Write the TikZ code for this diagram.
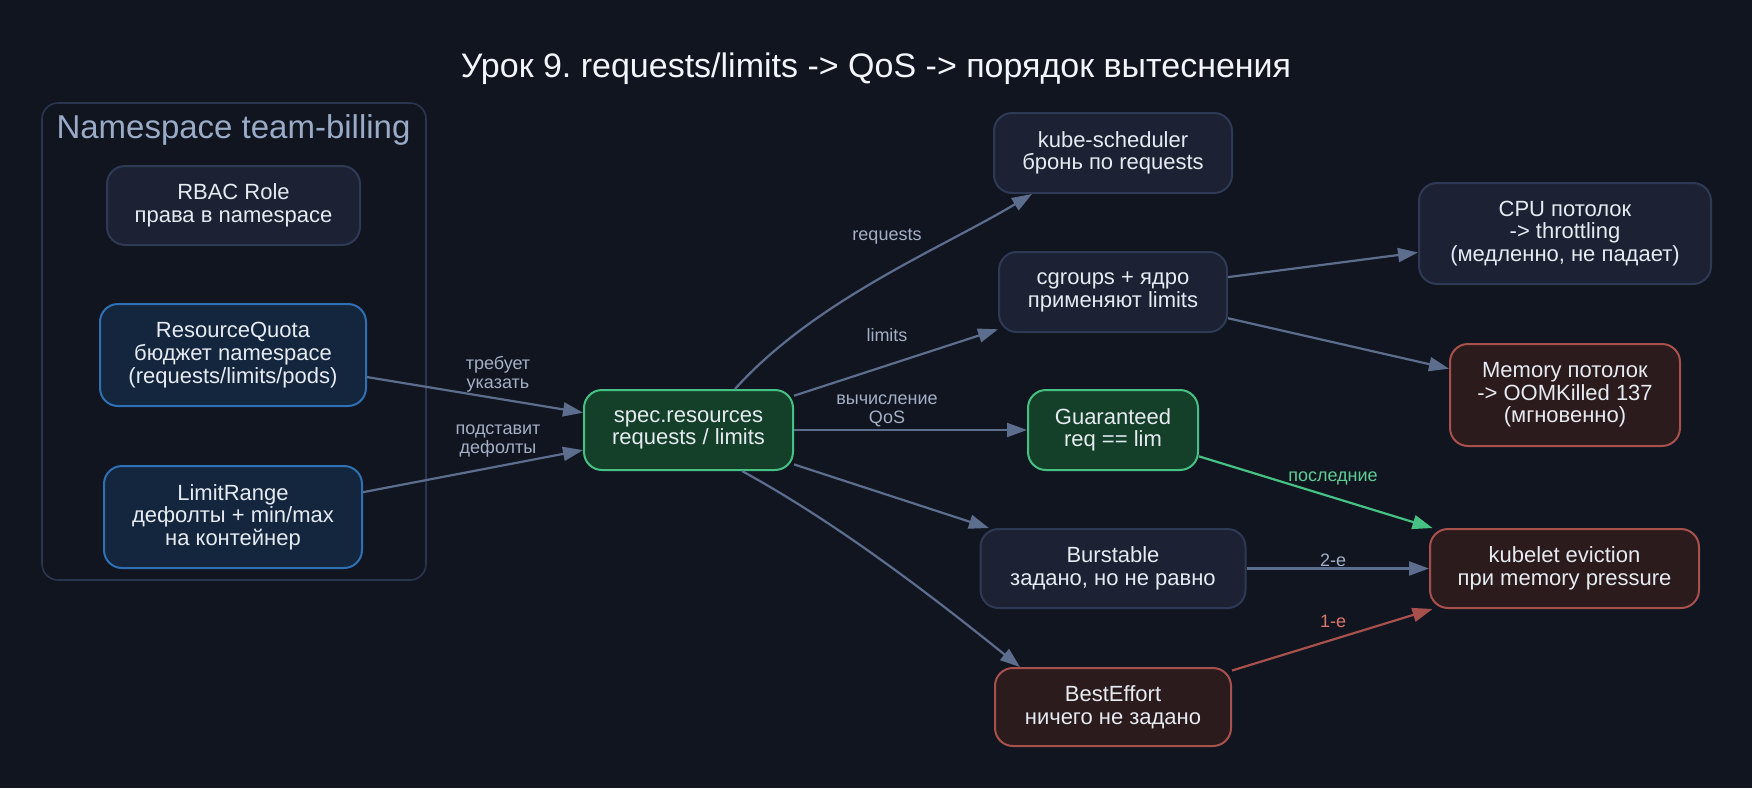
\documentclass[tikz,border=0pt]{standalone}
\usepackage{fontspec}
\setmainfont{Liberation Sans}
\usetikzlibrary{arrows.meta}
\frenchspacing
\definecolor{bg}{HTML}{111520}
\definecolor{nodefill}{HTML}{1C2233}
\definecolor{nodeborder}{HTML}{2E3A55}
\definecolor{bluefill}{HTML}{13263D}
\definecolor{blueborder}{HTML}{2F6FB3}
\definecolor{greenfill}{HTML}{14402A}
\definecolor{greenborder}{HTML}{45C283}
\definecolor{redfill}{HTML}{2B1B1D}
\definecolor{redborder}{HTML}{A8514C}
\definecolor{edgecol}{HTML}{5D6D8E}
\definecolor{labelcol}{HTML}{A3B0C6}
\definecolor{greenlabel}{HTML}{5FCE95}
\definecolor{redlabel}{HTML}{D9776B}
\definecolor{clusterborder}{HTML}{2A3550}
\definecolor{clusterlabel}{HTML}{9AABC8}
\definecolor{titlecol}{HTML}{F2F5FA}
\definecolor{nodetext}{HTML}{E6EAF1}
\begin{document}
\begin{tikzpicture}[x=0.5pt,y=-0.5pt,
  box/.style={draw=nodeborder, fill=nodefill, rounded corners=9pt, line width=1pt,
    text=nodetext, font=\fontsize{11}{11.3}\selectfont, align=center, inner sep=0pt},
  bluebox/.style={box, draw=blueborder, fill=bluefill},
  greenbox/.style={box, draw=greenborder, fill=greenfill},
  redbox/.style={box, draw=redborder, fill=redfill},
  conn/.style={draw=edgecol, line width=1.1pt, -{Triangle[length=10pt,width=7pt]}},
  lbl/.style={text=labelcol, font=\fontsize{9}{9.4}\selectfont, align=center, inner sep=0pt}
]
\useasboundingbox[fill=bg] (0,0) rectangle (1752,788);

\node[text=titlecol, font=\fontsize{17}{19}\selectfont, inner sep=0pt] (title) at (876,69)
  {Урок 9. requests/limits -> QoS -> порядок вытеснения};

% cluster
\node[draw=clusterborder, line width=0.8pt, rounded corners=8pt, minimum width=192pt,
  minimum height=238.5pt, inner sep=0pt] (ns) at (234,341.5) {};
\node[text=clusterlabel, font=\fontsize{16.5}{18}\selectfont, inner sep=0pt] (nslabel) at (233.5,130)
  {Namespace team-billing};

\node[box, minimum width=126.5pt, minimum height=39.5pt] (rbac) at (233.5,205.5)
  {RBAC Role\\права в namespace};
\node[bluebox, minimum width=133pt, minimum height=51pt] (quota) at (233,355)
  {ResourceQuota\\бюджет namespace\\(requests/limits/pods)};
\node[bluebox, minimum width=129pt, minimum height=51pt] (lrange) at (233,517)
  {LimitRange\\дефолты + min/max\\на контейнер};

\node[greenbox, minimum width=104.5pt, minimum height=40pt] (spec) at (688.5,430)
  {spec.resources\\requests / limits};

\node[box, minimum width=119pt, minimum height=40pt] (kube) at (1113,153)
  {kube-scheduler\\бронь по requests};
\node[box, minimum width=114pt, minimum height=40pt] (cgroups) at (1113,292)
  {cgroups + ядро\\применяют limits};
\node[greenbox, minimum width=85pt, minimum height=40pt] (guar) at (1113,430)
  {Guaranteed\\req == lim};
\node[box, minimum width=132.5pt, minimum height=39.5pt] (burst) at (1113,568.5)
  {Burstable\\задано, но не равно};
\node[redbox, minimum width=118pt, minimum height=39pt] (best) at (1113,707)
  {BestEffort\\ничего не задано};

\node[box, minimum width=146pt, minimum height=50.5pt] (cpu) at (1565,233.5)
  {CPU потолок\\-> throttling\\(медленно, не падает)};
\node[redbox, minimum width=115pt, minimum height=51pt] (mem) at (1565,395)
  {Memory потолок\\-> OOMKilled 137\\(мгновенно)};
\node[redbox, minimum width=134.5pt, minimum height=39.5pt] (kubelet) at (1564.5,568.5)
  {kubelet eviction\\при memory pressure};

% edges
\draw[conn] (quota) -- (spec);
\draw[conn] (lrange) -- (spec);
\draw[conn] ([xshift=23.25pt]spec.north) .. controls (815,300) and (942,248) .. ([xshift=-40.5pt]kube.south);
\draw[conn] (spec) -- (cgroups);
\draw[conn] (spec) -- (guar);
\draw[conn] (spec) -- (burst);
\draw[conn] ([xshift=26.75pt]spec.south) .. controls (835,522) and (927,592) .. ([xshift=-46.5pt]best.north);
\draw[conn] (cgroups) -- (cpu);
\draw[conn] (cgroups) -- (mem);
\draw[conn, draw=greenborder] (guar) -- (kubelet);
\draw[conn] (burst) -- (kubelet);
\draw[conn, draw=redborder] (best) -- (kubelet);

% edge labels
\node[lbl] (lreq) at (887,237) {requests};
\node[lbl] (llim) at (887,335) {limits};
\node[lbl] (lqos) at (887,411) {вычисление\\QoS};
\node[lbl] (ltreb) at (498,374) {требует\\указать};
\node[lbl] (lpod) at (498,441) {подставит\\дефолты};
\node[lbl, text=greenlabel] (llast) at (1333,478) {последние};
\node[lbl] (lsecond) at (1333,560) {2-е};
\node[lbl, text=redlabel] (lfirst) at (1333,621) {1-е};
\end{tikzpicture}
\end{document}
